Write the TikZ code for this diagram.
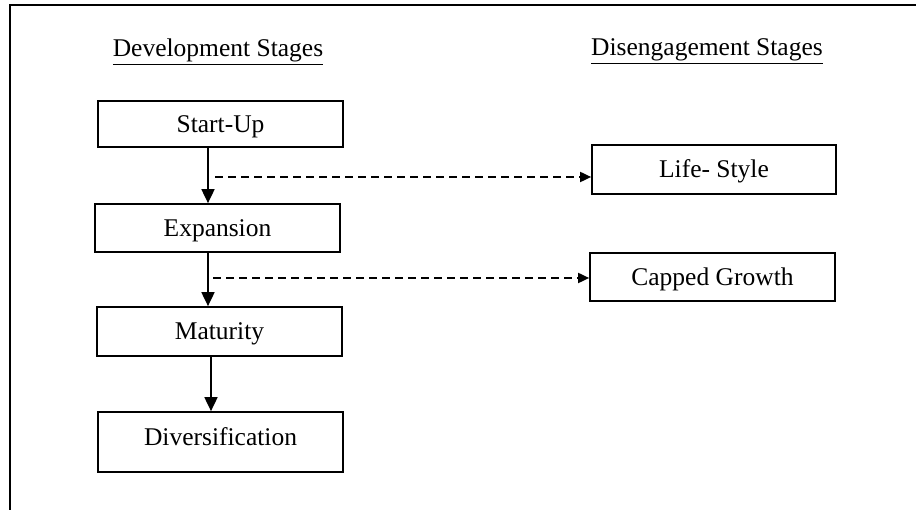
\documentclass[tikz,border=0pt]{standalone}
\usepackage{fontspec}
\setmainfont{Liberation Serif}
\usetikzlibrary{arrows.meta,calc}
\begin{document}
\begin{tikzpicture}[x=1pt,y=-1pt,
  stagebox/.style={draw,line width=1.7pt,minimum width=245pt,inner sep=0pt,text height=17pt,text depth=0pt,font=\fontsize{25.5}{28}\selectfont},
  heading/.style={inner sep=0pt,anchor=base,font=\fontsize{25.5}{28}\selectfont},
  solidarr/.style={line width=1.8pt,-{Triangle[length=14pt,width=13pt]}},
  dasharr/.style={line width=1.8pt,dash pattern=on 8pt off 5pt,-{Triangle[length=11pt,width=10pt]}}]
\useasboundingbox (0,0) rectangle (916,510);
\draw[line width=1.8pt] (916,5) -- (10,5) -- (10,510);
\node[heading] (dev) at (218,57) {\underline{Development Stages}};
\node[heading] (dis) at (707,56) {\underline{Disengagement Stages}};
\node[stagebox,minimum height=46pt] (start) at (220.5,124) {Start-Up};
\node[stagebox,minimum height=48pt] (exp) at (217.5,228) {Expansion};
\node[stagebox,minimum height=49pt] (mat) at (219.5,331.5) {Maturity};
\node[stagebox,minimum height=60pt,text depth=10pt] (div) at (220.5,442) {Diversification};
\node[stagebox,minimum width=244pt,minimum height=49pt] (life) at (714,169.5) {Life- Style};
\node[stagebox,minimum height=48pt] (cap) at (712.5,277) {Capped Growth};
\draw[solidarr] ($(start.south)+(-12.5,0)$) -- ($(exp.north)+(-9.5,0)$);
\draw[solidarr] ($(exp.south)+(-9.5,0)$) -- ($(mat.north)+(-11.5,0)$);
\draw[solidarr] ($(mat.south)+(-8.5,0)$) -- ($(div.north)+(-9.5,0)$);
\coordinate (d1) at (215,177);
\coordinate (d2) at (213,278);
\draw[dasharr] (d1) -- (d1 -| life.west);
\draw[dasharr] (d2) -- (d2 -| cap.west);
\end{tikzpicture}
\end{document}
